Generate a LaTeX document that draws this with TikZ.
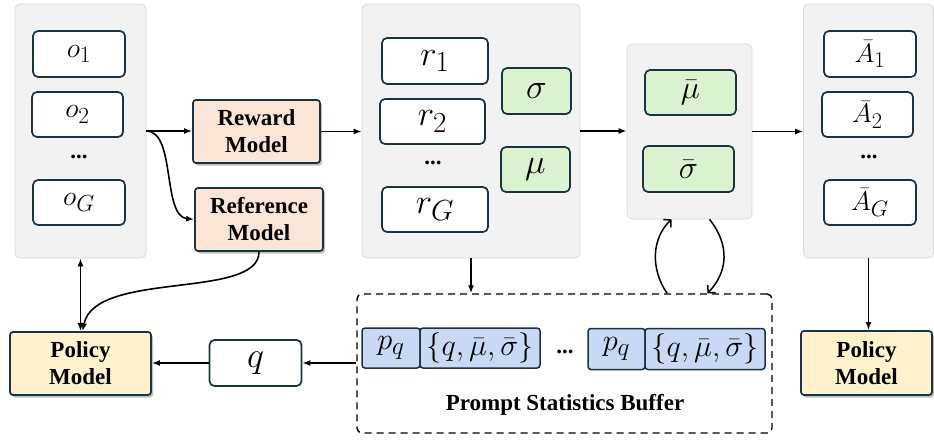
\documentclass[tikz,border=0pt]{standalone}
\usepackage[no-math]{fontspec}
\setmainfont{Liberation Serif}
\usepackage{graphicx}
\usetikzlibrary{arrows.meta,shadows,calc}
\definecolor{panelfill}{HTML}{F2F2F2}
\definecolor{panelborder}{HTML}{D6D6D6}
\definecolor{boxborder}{HTML}{1B3242}
\definecolor{peach}{HTML}{FBE5D6}
\definecolor{polyellow}{HTML}{FFF2CC}
\definecolor{mygreen}{HTML}{DAF2D0}
\definecolor{myblue}{HTML}{C8D8F5}
\newcommand\myBold{\fontsize{23}{27}\selectfont\bfseries}
\newcommand\myMath[2]{\scalebox{#1}{\fontsize{24.88}{30}\selectfont$#2$}}
\begin{document}
\begin{tikzpicture}[x=1pt,y=-1pt,
  panel/.style={draw=panelborder, fill=panelfill, rounded corners=5pt, line width=0.6pt, inner sep=0},
  wbox/.style={draw=boxborder, fill=white, rounded corners=5pt, line width=1.7pt, inner sep=0},
  gbox/.style={wbox, fill=mygreen},
  bbox/.style={draw=boxborder, fill=myblue, rounded corners=3pt, line width=1.5pt, inner sep=0},
  shad/.style={drop shadow={shadow xshift=2pt, shadow yshift=-2.5pt, opacity=0.25, fill=black}},
  model/.style={draw=boxborder, fill=peach, rounded corners=3pt, line width=1.7pt, inner sep=0, align=center, font=\myBold, shad},
  policy/.style={model, fill=polyellow},
  dotsn/.style={inner sep=0, font=\myBold},
  arr/.style={line width=1.6pt, -{Latex[length=8pt,width=6pt]}},
  darr/.style={line width=1.6pt, {Latex[length=8pt,width=6pt]}-{Latex[length=8pt,width=6pt]}},
  loop/.style={line width=1.5pt, -{Straight Barb[length=5pt,width=11pt,line width=1.5pt]}},
  buf/.style={draw=black, dashed, dash pattern=on 7pt off 5pt, line width=1.4pt, rounded corners=5pt, inner sep=0}
]
\useasboundingbox (0,0) rectangle (934,439);

% left panel
\node[panel, minimum width=131pt, minimum height=254pt] (lp) at (80.5,131) {};
\node[wbox, minimum width=92pt, minimum height=46pt] (o1) at (79,54) {\myMath{1.12}{o_1}};
\node[wbox, minimum width=91pt, minimum height=45pt] (o2) at (77.5,114.5) {\myMath{1.12}{o_2}};
\node[dotsn] (od) at (79,157) {...};
\node[wbox, minimum width=92pt, minimum height=45pt] (oG) at (79,202.5) {\myMath{1.12}{o_G}};

% models
\node[model, minimum width=127pt, minimum height=63pt] (rw) at (256.5,131.5) {Reward\\Model};
\node[model, minimum width=128pt, minimum height=63pt] (ref) at (259,219.5) {Reference\\Model};

% middle panel
\node[panel, minimum width=218pt, minimum height=254pt] (mp) at (471,131) {};
\node[wbox, minimum width=106pt, minimum height=46pt] (r1) at (435,61) {\myMath{1.4}{r_1}};
\node[wbox, minimum width=105pt, minimum height=45pt] (r2) at (432.5,121.5) {\myMath{1.4}{r_2}};
\node[dotsn] (rd) at (433,163) {...};
\node[wbox, minimum width=106pt, minimum height=45pt] (rG) at (435,209.5) {\myMath{1.4}{r_G}};
\node[gbox, minimum width=69pt, minimum height=46pt] (sg) at (536.5,91) {\myMath{1.4}{\sigma}};
\node[gbox, minimum width=69pt, minimum height=45pt] (mu) at (535.5,169.5) {\myMath{1.4}{\mu}};

% statistics panel
\node[panel, minimum width=125pt, minimum height=175pt] (sp) at (689.5,131.5) {};
\node[gbox, minimum width=91pt, minimum height=45pt] (mub) at (690.5,92.5) {\myMath{1.3}{\bar{\mu}}};
\node[gbox, minimum width=91pt, minimum height=46pt] (sgb) at (688.5,169) {\myMath{1.3}{\bar{\sigma}}};

% right panel
\node[panel, minimum width=130pt, minimum height=254pt] (rp) at (868.5,131) {};
\node[wbox, minimum width=92pt, minimum height=46pt] (a1) at (870,54) {\myMath{1.08}{\bar{A}_1}};
\node[wbox, minimum width=91pt, minimum height=45pt] (a2) at (867.5,114.5) {\myMath{1.08}{\bar{A}_2}};
\node[dotsn] (ad) at (869,157) {...};
\node[wbox, minimum width=92pt, minimum height=45pt] (aG) at (870,202.5) {\myMath{1.08}{\bar{A}_G}};

% policy models
\node[policy, minimum width=141pt, minimum height=63pt] (lpol) at (80.5,363.5) {Policy\\Model};
\node[policy, minimum width=131pt, minimum height=64pt] (rpol) at (866.5,363) {Policy\\Model};

% q
\node[wbox, minimum width=92pt, minimum height=46pt] (q) at (255.5,363) {\myMath{1.45}{q}};

% buffer
\node[buf, minimum width=415pt, minimum height=139pt] (bf) at (564.5,363.5) {};
\node[bbox, minimum width=58pt, minimum height=40pt] (p1) at (391,348) {\myMath{1.22}{p_q}};
\node[bbox, minimum width=120pt, minimum height=40pt] (s1) at (480,348) {\myMath{1.22}{\{q,\bar{\mu},\bar{\sigma}\}}};
\node[dotsn] (bd) at (565,352) {...};
\node[bbox, minimum width=57pt, minimum height=41pt] (p2) at (616.5,349) {\myMath{1.22}{p_q}};
\node[bbox, minimum width=120pt, minimum height=41pt] (s2) at (705,349) {\myMath{1.22}{\{q,\bar{\mu},\bar{\sigma}\}}};
\node[font=\myBold, inner sep=0] (bl) at (565,405) {Prompt Statistics Buffer};

% arrows
\draw[arr] (lp.east) -- (lp.east -| rw.west);
\draw[arr] (lp.east) .. controls (176,131) and (162,216) .. (ref.west);
\draw[arr] (rw.east) -- (rw.east -| mp.west);
\draw[arr] (mp.east) -- (mp.east -| sp.west);
\draw[arr] (sp.east) -- (sp.east -| rp.west);
\draw[arr] (rp.south) -- (rp.south |- rpol.north);
\draw[arr] (mp.south) -- (mp.south |- bf.north);
\draw[arr] (bf.west |- q.east) -- (q.east);
\draw[arr] (q.west) -- (q.west -| lpol.east);
\draw[darr] (lp.south) -- (lp.south |- lpol.north);
\draw[arr] (ref.south) .. controls (259,300) and (95,270) .. ([xshift=2pt]lpol.north);
\draw[loop] ([xshift=102.5pt]bf.north) .. controls (650,268) and (652,238) .. ([xshift=-18pt]sp.south);
\draw[loop] ([xshift=20pt]sp.south) .. controls (730,245) and (728,272) .. ([xshift=143pt]bf.north);
\end{tikzpicture}
\end{document}
